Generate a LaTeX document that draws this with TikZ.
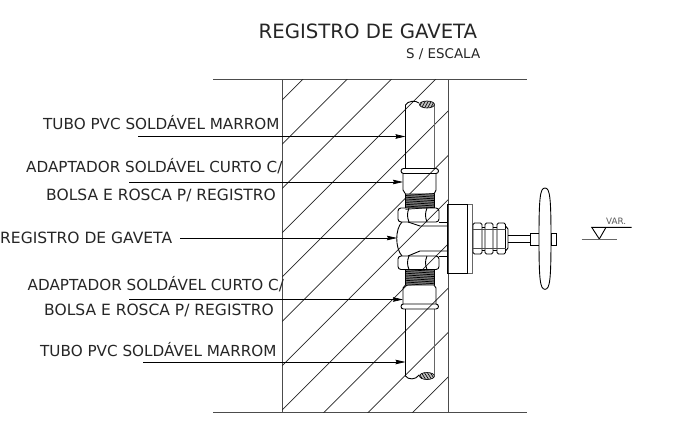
\documentclass[tikz,border=0pt]{standalone}
\usepackage{fontspec}
\setmainfont{DejaVu Sans}
\usetikzlibrary{arrows.meta}
\definecolor{wallgray}{gray}{0.3}
\tikzset{
    wallline/.style={draw=wallgray,line width=0.9pt},
    hatchline/.style={draw=black!85,line width=0.7pt},
    partline/.style={draw=black,line width=0.9pt},
    softline/.style={draw=black!60,line width=1pt},
    leader/.style={draw=black,line width=0.7pt,-{Stealth[length=10pt,width=4.5pt,inset=1pt]}},
    label/.style={anchor=base west,inner sep=0pt,text=black!85,font=\fontsize{15.2}{16}\selectfont},
    widelabel/.style={label,font=\fontsize{15.5}{16}\selectfont},
}
% thread between two heights
\newcommand{\threadpart}[2]{
    \fill[black!55] (405.5,#1) rectangle (434,#2);
    \foreach \ty in {0,2.3,...,14}
        \draw[black,line width=0.7pt] (405.5,#1+\ty+1.5) -- (434,#1+\ty-0.5);
    \draw[partline] (405.5,#1) -- (405.5,#2);
    \draw[partline] (434,#1) -- (434,#2);
}
% hex nut between two heights
\newcommand{\nutpart}[2]{
    \draw[partline,rounded corners=3pt] (398,#1) rectangle (439,#2);
    \draw[partline] (409,#1) .. controls (407,#1+5) and (407,#2-5) .. (409,#2);
    \draw[partline] (427,#1) .. controls (425,#1+5) and (425,#2-5) .. (427,#2);
}
\begin{document}
\begin{tikzpicture}[x=1pt,y=-1pt]
    \useasboundingbox (0,0) rectangle (697,429);
    \fill[white] (0,0) rectangle (697,429);
    % wall
    \draw[wallline] (213,79) -- (527,79);
    \draw[wallline] (213,412) -- (527,412);
    \draw[wallline] (282,79) -- (282,412);
    \draw[wallline] (448,79) -- (448,412);
    \begin{scope}
        \clip (282,79) rectangle (448,412);
        \foreach \c in {0,...,10}
            \draw[hatchline] (282,100+44.3*\c) -- (482,-100+44.3*\c);
    \end{scope}
    % pipes
    \draw[partline] (405.5,168) -- (405.5,105) .. controls (407,101) and (416,100) .. (419,103);
    \draw[softline] (434,168) -- (434,105);
    \draw[partline] (405.5,309) -- (405.5,376) .. controls (408,380) and (416,380) .. (419,375);
    \draw[softline] (434,309) -- (434,375);
    \begin{scope}
        \clip (427,104.5) ellipse (7.5 and 3.5);
        \fill[black!25] (419,100) rectangle (435,109);
        \foreach \h in {0,...,6}
            \draw[black,line width=0.6pt] (418+3*\h,109) -- (423+3*\h,100);
    \end{scope}
    \draw[black,line width=0.6pt] (427,104.5) ellipse (7.5 and 3.5);
    \begin{scope}
        \clip (427,376) ellipse (7.5 and 3.5);
        \fill[black!25] (419,372) rectangle (435,380);
        \foreach \h in {0,...,6}
            \draw[black,line width=0.6pt] (423+3*\h,380) -- (418+3*\h,372);
    \end{scope}
    \draw[black,line width=0.6pt] (427,376) ellipse (7.5 and 3.5);
    % adapters
    \draw[partline,rounded corners=2.5pt] (401,168.5) rectangle (438.5,173.5);
    \draw[partline] (403,173.5) -- (403,190) -- (405.5,194) -- (434,194) -- (436,190) -- (436,173.5);
    \draw[partline,rounded corners=2.5pt] (401,304) rectangle (438.5,309);
    \draw[partline] (403,304) -- (403,288) -- (405.5,285) -- (434,285) -- (436,288) -- (436,304);
    % threads and nuts
    \threadpart{194}{208}
    \threadpart{270}{285}
    \nutpart{208}{222}
    \nutpart{256}{269.5}
    % valve body
    \draw[partline] (402,222) .. controls (395,229) and (395,248) .. (402,256);
    \draw[partline] (408,222) -- (420,226) -- (447.5,226);
    \draw[partline] (408,256) -- (420,251) -- (447.5,251);
    \draw[partline] (439,222) -- (447.5,222);
    \draw[partline] (439,256.5) -- (447.5,256.5);
    % flange
    \draw[partline] (447.5,204) rectangle (467.7,273.3);
    \draw[softline] (467.7,204) -- (472.7,204) -- (472.7,273.3) -- (467.7,273.3);
    % packing nuts
    \draw[partline,rounded corners=1.5pt] (473,223) rectangle (482,254);
    \draw[partline,rounded corners=1.5pt] (485,223) rectangle (493,254);
    \draw[partline,rounded corners=1.5pt] (497,223) rectangle (505.5,254);
    \draw[partline] (482,227) -- (485,227) (482,250) -- (485,250);
    \draw[partline] (493,227) -- (497,227) (493,250) -- (497,250);
    \draw[partline] (505.5,226) -- (508,229) -- (508,248) -- (505.5,251);
    \draw[black!70,line width=0.7pt] (473,229) -- (505.5,229) (473,248) -- (505.5,248);
    % stem and handwheel
    \draw[partline] (508,235) -- (530,235);
    \draw[partline] (508,242.7) -- (530,242.7);
    \draw[partline] (530,233.3) rectangle (539.3,245);
    \draw[partline] (551,233.3) rectangle (556.7,245);
    \draw[partline,fill=white] (545,188) .. controls (540,188) and (539,198) .. (539,238.5)
        .. controls (539,279) and (540,289.3) .. (545,289.3)
        .. controls (550,289.3) and (551,279) .. (551,238.5)
        .. controls (551,198) and (550,188) .. (545,188) -- cycle;
    % level mark
    \draw[partline] (631.7,227.3) -- (591.7,227.3) -- (599.3,239) -- (606,227.3);
    \draw[softline] (581.7,239) -- (616.7,239);
    \node[label,font=\fontsize{8.8}{9}\selectfont,text=black!65] (var) at (606,224) {VAR.};
    % titles
    \node[label,font=\fontsize{19.7}{20}\selectfont] (title) at (258.5,38.3) {REGISTRO DE GAVETA};
    \node[label,font=\fontsize{13.4}{14}\selectfont] (scale) at (406,58.3) {S / ESCALA};
    % labels
    \node[label] (tuboTop) at (43,129.3) {TUBO PVC SOLDÁVEL MARROM};
    \node[label] (adaptTopA) at (26,172.7) {ADAPTADOR SOLDÁVEL CURTO C/};
    \node[widelabel] (adaptTopB) at (46,200) {BOLSA E ROSCA P/ REGISTRO};
    \node[widelabel] (valve) at (0,243.3) {REGISTRO DE GAVETA};
    \node[label] (adaptLowA) at (27.5,290) {ADAPTADOR SOLDÁVEL CURTO C/};
    \node[widelabel] (adaptLowB) at (44,315) {BOLSA E ROSCA P/ REGISTRO};
    \node[label] (tuboLow) at (40,356) {TUBO PVC SOLDÁVEL MARROM};
    % leaders
    \coordinate (tuboTopS) at (138,136.5);
    \coordinate (tuboTopE) at (405.5,136.5);
    \coordinate (adaptTopS) at (129,182);
    \coordinate (adaptTopE) at (403,182);
    \coordinate (valveS) at (180,238);
    \coordinate (valveE) at (397,238);
    \coordinate (adaptLowS) at (129,299.5);
    \coordinate (adaptLowE) at (403,299.5);
    \coordinate (tuboLowS) at (143,362);
    \coordinate (tuboLowE) at (405.5,362);
    \foreach \from/\to in {tuboTopS/tuboTopE,adaptTopS/adaptTopE,valveS/valveE,adaptLowS/adaptLowE,tuboLowS/tuboLowE}
        \draw[leader] (\from) -- (\to);
\end{tikzpicture}
\end{document}
